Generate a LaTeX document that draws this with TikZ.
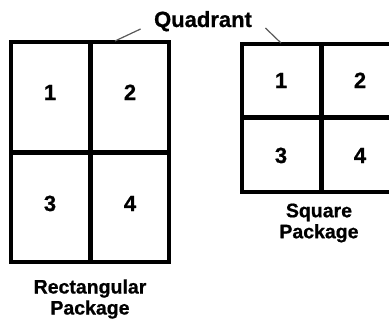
\documentclass[tikz,border=0pt]{standalone}
\usepackage{fontspec}
\setmainfont{Liberation Sans}[BoldFeatures={FakeBold=0.8}]
\usetikzlibrary{positioning}
\tikzset{
    pkgline/.style={line width=3.5pt},
    divline/.style={line width=5pt},
    quadnum/.style={font=\fontsize{22}{22}\selectfont\bfseries, anchor=base},
    pkglabel/.style={font=\fontsize{19.5}{21}\selectfont\bfseries, align=center},
    leader/.style={gray!70!black, line width=1.2pt}
}

\begin{document}
\begin{tikzpicture}[x=1pt, y=-1pt]
                        \path[use as bounding box, clip] (0, 0) rectangle (389, 325);

                        \draw[pkgline] (11, 42) -- (169, 42) -- (169, 262) -- (11, 262) -- cycle;
                        \draw[divline] (90, 42) -- (90, 262);
                        \draw[divline] (11, 152) -- (169, 152);

                        \draw[pkgline] (395, 44) -- (242, 44) -- (242, 192) -- (395, 192);
                        \draw[divline] (321, 44) -- (321, 192);
                        \draw[divline] (242, 117) -- (395, 117);

                        \node[quadnum] (rect1) at (50, 100) {1};
                        \node[quadnum] (rect2) at (130, 100) {2};
                        \node[quadnum] (rect3) at (50, 211) {3};
                        \node[quadnum] (rect4) at (130, 211) {4};

                        \node[quadnum] (sq1) at (281, 88) {1};
                        \node[quadnum] (sq2) at (360, 88) {2};
                        \node[quadnum] (sq3) at (281, 163) {3};
                        \node[quadnum] (sq4) at (360, 163) {4};

                        \node[pkglabel, font=\fontsize{22}{22}\selectfont\bfseries, anchor=base]
                            (quadrant) at (203, 27) {Quadrant};
                        \node[pkglabel] (rectlabel) at (90, 299) {Rectangular\\Package};
                        \node[pkglabel] (sqlabel) at (319, 223) {Square\\Package};

                        \coordinate (rectedge) at (115, 41);
                        \coordinate (sqedge) at (281, 43);

                        \draw
                        ([shift={(-10, 2)}]quadrant.base west) edge[leader] (rectedge)
                        ([shift={(10, 1)}]quadrant.base east) edge[leader] (sqedge);
                    \end{tikzpicture}
\end{document}
